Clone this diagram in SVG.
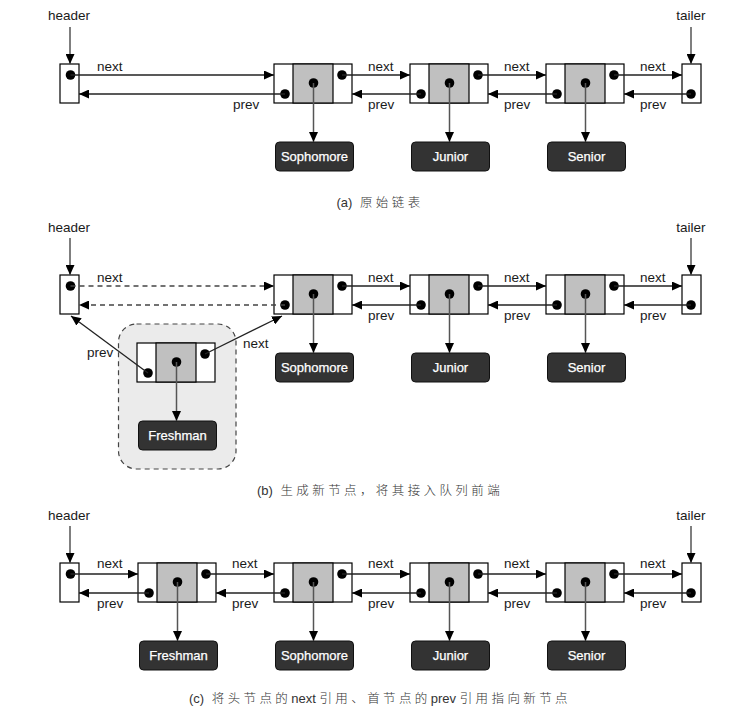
<svg xmlns="http://www.w3.org/2000/svg" width="743" height="724" viewBox="0 0 743 724">
<style>
.lbl{font-family:"Liberation Sans",Arial,sans-serif;font-size:13.5px;fill:#1a1a1a}
.val{font-family:"Liberation Sans",Arial,sans-serif;font-size:13px;fill:#fff;text-anchor:middle;stroke:#fff;stroke-width:0.25}
.cap{font-family:"Liberation Sans","Noto Sans CJK SC",sans-serif;font-size:13px;fill:#333;text-anchor:middle}
.zh{font-family:"Noto Sans CJK SC",sans-serif;font-size:12.5px;letter-spacing:3.4px;font-weight:300}
.box{fill:#fff;stroke:#000;stroke-width:1.2}
.mid{fill:#c0c0c0;stroke:#000;stroke-width:1.2}
.vbox{fill:#333;stroke:#111;stroke-width:1}
.dot{fill:#000}
.ln{stroke:#222;stroke-width:1.3;fill:none;marker-end:url(#arr)}
.ptr{stroke:#555;stroke-width:1.5;fill:none;marker-end:url(#arr)}
.dash{stroke:#444;stroke-width:1.3;fill:none;stroke-dasharray:5,4;marker-end:url(#arr)}
</style>
<defs>
<marker id="arr" markerUnits="userSpaceOnUse" markerWidth="10" markerHeight="9" refX="10" refY="4.5" orient="auto"><path d="M0,0 L10,4.5 L0,9 z" fill="#000"/></marker>
<g id="nodeShape">
<rect class="box" x="0" y="0" width="78" height="39"/>
<rect class="mid" x="19" y="0" width="40" height="39"/>
<circle class="dot" cx="11" cy="30" r="4.8"/>
<circle class="dot" cx="39.5" cy="19" r="4.8"/>
<circle class="dot" cx="68" cy="11" r="4.8"/>
</g>
</defs>
<rect width="743" height="724" fill="#fff"/>

<!-- Panel (a) -->
<g id="a-header"><text class="lbl" x="69" y="20" text-anchor="middle">header</text><rect class="box" x="60" y="64" width="19" height="39"/><circle class="dot" cx="70.5" cy="75" r="4.8"/></g>
<g id="a-tailer"><text class="lbl" x="691" y="20" text-anchor="middle">tailer</text><rect class="box" x="682" y="64" width="19" height="39"/><circle class="dot" cx="691" cy="94" r="4.8"/></g>
<g id="a-node1"><use href="#nodeShape" x="274" y="64"/></g>
<g id="a-node2"><use href="#nodeShape" x="410" y="64"/></g>
<g id="a-node3"><use href="#nodeShape" x="546" y="64"/></g>
<g id="a-sophomore"><rect class="vbox" x="275.5" y="142" width="78" height="29" rx="4"/><text class="val" x="314.5" y="161">Sophomore</text></g>
<g id="a-junior"><rect class="vbox" x="411.5" y="142" width="78" height="29" rx="4"/><text class="val" x="450.5" y="161">Junior</text></g>
<g id="a-senior"><rect class="vbox" x="547.5" y="142" width="78" height="29" rx="4"/><text class="val" x="586.5" y="161">Senior</text></g>
<g id="a-connectors">
<line class="ptr" x1="70" y1="27" x2="70" y2="64"/>
<line class="ptr" x1="691" y1="27" x2="691" y2="64"/>
<line class="ln" x1="70.5" y1="75" x2="274" y2="75"/>
<line class="ln" x1="285" y1="94" x2="79" y2="94"/>
<line class="ln" x1="342" y1="75" x2="410" y2="75"/>
<line class="ln" x1="421" y1="94" x2="352" y2="94"/>
<line class="ln" x1="478" y1="75" x2="546" y2="75"/>
<line class="ln" x1="557" y1="94" x2="488" y2="94"/>
<line class="ln" x1="614" y1="75" x2="682" y2="75"/>
<line class="ln" x1="691" y1="94" x2="624" y2="94"/>
<line class="ptr" x1="313.5" y1="83" x2="313.5" y2="142"/>
<line class="ptr" x1="449.5" y1="83" x2="449.5" y2="142"/>
<line class="ptr" x1="585.5" y1="83" x2="585.5" y2="142"/>
<text class="lbl" x="97" y="71">next</text><text class="lbl" x="233" y="109">prev</text>
<text class="lbl" x="368" y="71">next</text><text class="lbl" x="368" y="109">prev</text>
<text class="lbl" x="504" y="71">next</text><text class="lbl" x="504" y="109">prev</text>
<text class="lbl" x="640" y="71">next</text><text class="lbl" x="640" y="109">prev</text>
</g>
<text class="cap" x="380" y="207">(a) <tspan class="zh" dx="4">原始链表</tspan></text>

<!-- Panel (b) -->
<g id="b-header"><text class="lbl" x="69" y="232" text-anchor="middle">header</text><rect class="box" x="60" y="275" width="19" height="39"/><circle class="dot" cx="70.5" cy="286" r="4.8"/></g>
<g id="b-tailer"><text class="lbl" x="691" y="232" text-anchor="middle">tailer</text><rect class="box" x="682" y="275" width="19" height="39"/><circle class="dot" cx="691" cy="305" r="4.8"/></g>
<g id="b-group"><rect x="118.5" y="324" width="117.5" height="145" rx="18" fill="#ebebeb" stroke="#444" stroke-width="1.2" stroke-dasharray="5,4"/></g>
<g id="b-fnode"><use href="#nodeShape" x="137" y="343"/></g>
<g id="b-freshman"><rect class="vbox" x="138.5" y="421" width="78" height="29" rx="4"/><text class="val" x="177.5" y="440">Freshman</text></g>
<g id="b-node1"><use href="#nodeShape" x="274" y="275"/></g>
<g id="b-node2"><use href="#nodeShape" x="410" y="275"/></g>
<g id="b-node3"><use href="#nodeShape" x="546" y="275"/></g>
<g id="b-sophomore"><rect class="vbox" x="275.5" y="353" width="78" height="29" rx="4"/><text class="val" x="314.5" y="372">Sophomore</text></g>
<g id="b-junior"><rect class="vbox" x="411.5" y="353" width="78" height="29" rx="4"/><text class="val" x="450.5" y="372">Junior</text></g>
<g id="b-senior"><rect class="vbox" x="547.5" y="353" width="78" height="29" rx="4"/><text class="val" x="586.5" y="372">Senior</text></g>
<g id="b-connectors">
<line class="ptr" x1="70" y1="238" x2="70" y2="275"/>
<line class="ptr" x1="691" y1="238" x2="691" y2="275"/>
<line class="dash" x1="70.5" y1="286" x2="274" y2="286"/>
<line class="dash" x1="285" y1="305" x2="79" y2="305"/>
<line class="ln" x1="342" y1="286" x2="410" y2="286"/>
<line class="ln" x1="421" y1="305" x2="352" y2="305"/>
<line class="ln" x1="478" y1="286" x2="546" y2="286"/>
<line class="ln" x1="557" y1="305" x2="488" y2="305"/>
<line class="ln" x1="614" y1="286" x2="682" y2="286"/>
<line class="ln" x1="691" y1="305" x2="624" y2="305"/>
<line class="ln" x1="148" y1="373" x2="71" y2="316"/>
<line class="ln" x1="205" y1="354" x2="282" y2="316"/>
<line class="ptr" x1="176.5" y1="362" x2="176.5" y2="421"/>
<line class="ptr" x1="313.5" y1="294" x2="313.5" y2="353"/>
<line class="ptr" x1="449.5" y1="294" x2="449.5" y2="353"/>
<line class="ptr" x1="585.5" y1="294" x2="585.5" y2="353"/>
<text class="lbl" x="97" y="282">next</text>
<text class="lbl" x="87" y="357">prev</text><text class="lbl" x="243" y="348">next</text>
<text class="lbl" x="368" y="282">next</text><text class="lbl" x="368" y="320">prev</text>
<text class="lbl" x="504" y="282">next</text><text class="lbl" x="504" y="320">prev</text>
<text class="lbl" x="640" y="282">next</text><text class="lbl" x="640" y="320">prev</text>
</g>
<text class="cap" x="380" y="495">(b) <tspan class="zh" dx="4">生成新节点，将其接入队列前端</tspan></text>

<!-- Panel (c) -->
<g id="c-header"><text class="lbl" x="69" y="520" text-anchor="middle">header</text><rect class="box" x="60" y="563" width="19" height="39"/><circle class="dot" cx="70.5" cy="574" r="4.8"/></g>
<g id="c-tailer"><text class="lbl" x="691" y="520" text-anchor="middle">tailer</text><rect class="box" x="682" y="563" width="19" height="39"/><circle class="dot" cx="691" cy="593" r="4.8"/></g>
<g id="c-node0"><use href="#nodeShape" x="138" y="563"/></g>
<g id="c-node1"><use href="#nodeShape" x="274" y="563"/></g>
<g id="c-node2"><use href="#nodeShape" x="410" y="563"/></g>
<g id="c-node3"><use href="#nodeShape" x="546" y="563"/></g>
<g id="c-freshman"><rect class="vbox" x="139.5" y="641" width="78" height="29" rx="4"/><text class="val" x="178.5" y="660">Freshman</text></g>
<g id="c-sophomore"><rect class="vbox" x="275.5" y="641" width="78" height="29" rx="4"/><text class="val" x="314.5" y="660">Sophomore</text></g>
<g id="c-junior"><rect class="vbox" x="411.5" y="641" width="78" height="29" rx="4"/><text class="val" x="450.5" y="660">Junior</text></g>
<g id="c-senior"><rect class="vbox" x="547.5" y="641" width="78" height="29" rx="4"/><text class="val" x="586.5" y="660">Senior</text></g>
<g id="c-connectors">
<line class="ptr" x1="70" y1="526" x2="70" y2="563"/>
<line class="ptr" x1="691" y1="526" x2="691" y2="563"/>
<line class="ln" x1="70.5" y1="574" x2="138" y2="574"/>
<line class="ln" x1="149" y1="593" x2="79" y2="593"/>
<line class="ln" x1="206" y1="574" x2="274" y2="574"/>
<line class="ln" x1="285" y1="593" x2="216" y2="593"/>
<line class="ln" x1="342" y1="574" x2="410" y2="574"/>
<line class="ln" x1="421" y1="593" x2="352" y2="593"/>
<line class="ln" x1="478" y1="574" x2="546" y2="574"/>
<line class="ln" x1="557" y1="593" x2="488" y2="593"/>
<line class="ln" x1="614" y1="574" x2="682" y2="574"/>
<line class="ln" x1="691" y1="593" x2="624" y2="593"/>
<line class="ptr" x1="177.5" y1="582" x2="177.5" y2="641"/>
<line class="ptr" x1="313.5" y1="582" x2="313.5" y2="641"/>
<line class="ptr" x1="449.5" y1="582" x2="449.5" y2="641"/>
<line class="ptr" x1="585.5" y1="582" x2="585.5" y2="641"/>
<text class="lbl" x="97" y="568">next</text><text class="lbl" x="97" y="608">prev</text>
<text class="lbl" x="232" y="568">next</text><text class="lbl" x="232" y="608">prev</text>
<text class="lbl" x="368" y="568">next</text><text class="lbl" x="368" y="608">prev</text>
<text class="lbl" x="504" y="568">next</text><text class="lbl" x="504" y="608">prev</text>
<text class="lbl" x="640" y="568">next</text><text class="lbl" x="640" y="608">prev</text>
</g>
<text class="cap" x="380" y="703">(c) <tspan class="zh" dx="4">将头节点的</tspan>next <tspan class="zh">引用、首节点的</tspan>prev <tspan class="zh">引用指向新节点</tspan></text>
</svg>
